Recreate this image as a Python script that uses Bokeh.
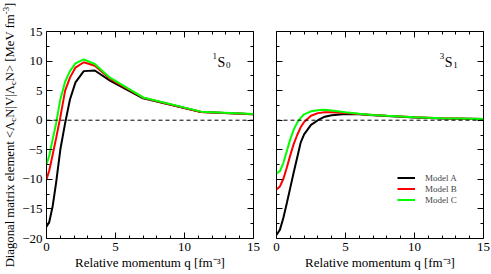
from bokeh.plotting import figure
from bokeh.models import (Range1d, SingleIntervalTicker, LinearAxis, Span, Label,
                          Legend, LegendItem, CustomJSTickFormatter, Div)
from bokeh.layouts import row
from bokeh.embed import file_html
from bokeh.resources import INLINE

# ---------------- data ----------------
q_1s0 = [0.0, 0.2, 0.45, 0.7, 1.0, 1.35, 1.7, 2.1, 2.7, 3.5, 4.6, 7.0, 11.2, 15.0]
a_1s0 = [-18.0, -17.2, -14.5, -10.5, -5.0, -0.5, 3.5, 6.4, 8.3, 8.4, 6.7, 3.7, 1.4, 1.0]
b_1s0 = [-10.0, -8.5, -5.8, -3.0, 0.5, 5.0, 7.2, 8.9, 9.8, 9.2, 7.0, 3.8, 1.4, 1.0]
c_1s0 = [-7.5, -6.0, -3.2, -0.5, 3.5, 6.5, 8.3, 9.6, 10.3, 9.5, 7.2, 3.85, 1.45, 1.05]

q_3s1 = [0.0, 0.25, 0.5, 0.75, 1.0, 1.25, 1.5, 1.75, 2.0, 2.5, 3.0, 3.5, 4.0, 5.0, 6.0, 7.0, 8.0, 10.0, 12.0, 15.0]
a_3s1 = [-19.4, -18.5, -16.5, -14.0, -11.4, -8.8, -6.3, -3.8, -2.4, -0.8, 0.0, 0.6, 0.85, 1.05, 1.0, 0.85, 0.7, 0.45, 0.3, 0.2]
b_3s1 = [-11.7, -11.2, -9.9, -8.0, -5.9, -4.0, -2.5, -1.2, -0.3, 0.75, 1.2, 1.35, 1.35, 1.2, 1.05, 0.9, 0.75, 0.5, 0.32, 0.2]
c_3s1 = [-9.0, -8.6, -7.2, -5.2, -3.2, -1.6, -0.4, 0.4, 1.0, 1.5, 1.7, 1.75, 1.65, 1.35, 1.1, 0.9, 0.75, 0.5, 0.33, 0.22]

series_names = ["Model A", "Model B", "Model C"]
series_colors = ["#000000", "#ff0000", "#00ff00"]

x_range = (0, 15)
y_range = (-20, 15)
x_major, x_minor = 5, 5
y_major, y_minor = 5, 2

xlabel = "Relative momentum q [fm\u207b\u00b3]"
ylabel_html = ("Diagonal matrix element &lt;\u039b<sub>c</sub>N|V|\u039b<sub>c</sub>N&gt; "
               "[MeV fm<sup>-3</sup>]")

# ---------------- layout ----------------
FONT = "Liberation Serif"
FW, FH = 207, 207
TOP, BOT = 31, 36
TOTAL_H = TOP + FH + BOT
STRIP = 18

W = {'S': 556, '0': 500, '1': 500, '3': 500}


def tw(s, size):
    return sum(W.get(ch, 500) for ch in s) / 1000.0 * size


def lab(p, x, y, text, size):
    p.add_layout(Label(x=x, y=y, text=text, text_font=FONT, text_font_size=f"{size}px",
                       text_align="left", text_baseline="alphabetic", text_color="black"))


def label_axis(ax, show):
    ax.major_tick_in = 0
    ax.major_tick_out = 0
    ax.minor_tick_in = 0
    ax.minor_tick_out = 0
    ax.axis_line_color = None
    ax.major_label_text_font = FONT
    ax.major_label_text_font_size = "13px"
    ax.major_label_text_color = "black"
    ax.major_label_standoff = 4
    if not show:
        ax.formatter = CustomJSTickFormatter(code="return ''")


def tick_axis(p, side, loc, interval, nminor):
    ax = LinearAxis(fixed_location=loc,
                    ticker=SingleIntervalTicker(interval=interval, num_minor_ticks=nminor),
                    formatter=CustomJSTickFormatter(code="return ''"))
    ax.major_tick_in = 6
    ax.major_tick_out = 0
    ax.minor_tick_in = 3
    ax.minor_tick_out = 0
    ax.major_tick_line_color = "black"
    ax.minor_tick_line_color = "black"
    ax.axis_line_color = "black"
    ax.major_label_standoff = 0
    p.add_layout(ax, side)


def make_fig(lb, rb, ylabels):
    p = figure(width=lb + FW + rb, height=TOTAL_H,
               x_range=Range1d(*x_range), y_range=Range1d(*y_range),
               output_backend="svg", toolbar_location=None,
               min_border_left=lb, min_border_right=rb,
               min_border_top=TOP, min_border_bottom=BOT)
    p.xgrid.visible = False
    p.ygrid.visible = False
    p.outline_line_color = "black"
    p.outline_line_width = 1
    p.background_fill_color = "white"
    p.border_fill_color = "white"
    p.xaxis[0].ticker = SingleIntervalTicker(interval=x_major, num_minor_ticks=x_minor)
    p.yaxis[0].ticker = SingleIntervalTicker(interval=y_major, num_minor_ticks=y_minor)
    label_axis(p.xaxis[0], True)
    label_axis(p.yaxis[0], ylabels)
    p.xaxis[0].axis_label = xlabel
    p.xaxis[0].axis_label_text_font = FONT
    p.xaxis[0].axis_label_text_font_size = "13px"
    p.xaxis[0].axis_label_text_font_style = "normal"
    p.xaxis[0].axis_label_text_color = "black"
    p.xaxis[0].axis_label_standoff = 1
    tick_axis(p, "below", y_range[0], x_major, x_minor)
    tick_axis(p, "above", y_range[1], x_major, x_minor)
    tick_axis(p, "left", x_range[0], y_major, y_minor)
    tick_axis(p, "right", x_range[1], y_major, y_minor)
    p.add_layout(Span(location=0, dimension="width", line_color="black",
                      line_width=1, line_dash="4 3"))
    return p


p1 = make_fig(28, 10, True)
p2 = make_fig(13, 8, False)

rend2 = []
for ys1, ys2, col in zip([a_1s0, b_1s0, c_1s0], [a_3s1, b_3s1, c_3s1], series_colors):
    p1.line(q_1s0, ys1, line_color=col, line_width=2)
    rend2.append(p2.line(q_3s1, ys2, line_color=col, line_width=2))

legend = Legend(items=[LegendItem(label=n, renderers=[r]) for n, r in zip(series_names, rend2)],
                location=(121, 33), border_line_color=None, background_fill_alpha=0,
                label_text_font=FONT, label_text_font_size="9px", glyph_width=18,
                glyph_height=11, label_height=11, spacing=0, padding=0, margin=0,
                label_standoff=10)
p2.add_layout(legend)

PXX = FW / (x_range[1] - x_range[0])
PXY = FH / (y_range[1] - y_range[0])


def state_label(p, xs, yb, sup, sub):
    lab(p, xs - (tw(sup, 9) + 0.5) / PXX, yb + 6 / PXY, sup, 9)
    lab(p, xs, yb, "S", 14)
    lab(p, xs + (tw("S", 14) + 0.5) / PXX, yb - 3 / PXY, sub, 9)


state_label(p1, 12.4, 9.8, "1", "0")
state_label(p2, 12.2, 9.8, "3", "1")

# ---------------- y axis label (HTML text, rotated) ----------------
sub_css = "font-size:70%;vertical-align:-0.3em;line-height:0;"
sup_css = "font-size:70%;vertical-align:0.55em;line-height:0;"
inner = ylabel_html.replace("<sub>", f'<sub style="{sub_css}">').replace("<sup>", f'<sup style="{sup_css}">')
div_html = (
    f'<div style="position:relative;width:{STRIP}px;height:{TOTAL_H}px;overflow:visible;">'
    f'<div style="position:absolute;left:10px;top:{TOP + FH / 2 + 0.5}px;white-space:nowrap;'
    f'transform:translate(-50%,-50%) rotate(-90deg);font-family:\'{FONT}\';font-size:12.7px;'
    f'line-height:1;color:black;">{inner}</div></div>'
)
ylab = Div(text=div_html, width=STRIP, height=TOTAL_H, margin=(0, 0, 0, 0),
           styles={"overflow": "visible"})

layout = row(ylab, p1, p2)
open("out.html", "w").write(file_html(layout, INLINE))
